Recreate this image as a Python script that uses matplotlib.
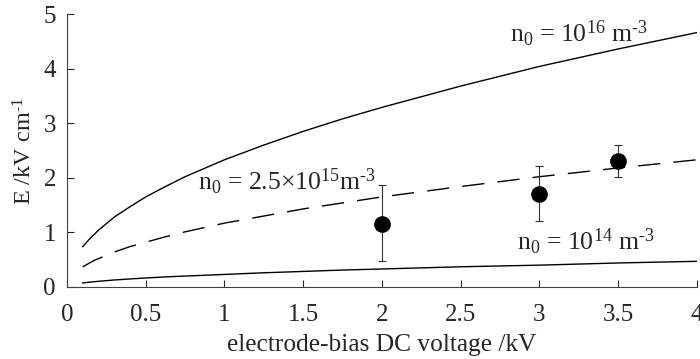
import matplotlib
matplotlib.use("Agg")
import matplotlib.pyplot as plt

plt.rcParams['font.family'] = ['Liberation Serif', 'DejaVu Serif']
plt.rcParams['mathtext.fontset'] = 'custom'
plt.rcParams['mathtext.rm'] = 'Liberation Serif'
plt.rcParams['mathtext.it'] = 'Liberation Serif:italic'

# Curves
voltage = [0.1, 0.125, 0.15, 0.175, 0.2, 0.25, 0.3, 0.4, 0.5, 0.625, 0.75, 1.0, 1.25, 1.5, 1.75,
           2.0, 2.5, 3.0, 3.5, 4.0]
E_n16 = [0.74, 0.82, 0.90, 0.97, 1.04, 1.16, 1.28, 1.47, 1.65, 1.84, 2.02, 2.33, 2.60, 2.85, 3.08,
         3.29, 3.68, 4.04, 4.36, 4.66]
E_n25 = [0.37, 0.41, 0.45, 0.49, 0.52, 0.58, 0.64, 0.74, 0.82, 0.92, 1.01, 1.17, 1.30, 1.43, 1.54,
         1.65, 1.84, 2.02, 2.18, 2.33]
E_n14 = [0.074, 0.082, 0.09, 0.097, 0.104, 0.116, 0.128, 0.147, 0.165, 0.184, 0.20, 0.23, 0.26,
         0.285, 0.31, 0.33, 0.37, 0.40, 0.44, 0.47]

# Measurements
meas_v = [2.0, 3.0, 3.5]
meas_E = [1.16, 1.71, 2.31]
meas_lo = [0.48, 1.21, 2.02]
meas_hi = [1.87, 2.21, 2.60]

xticks = [0, 0.5, 1, 1.5, 2, 2.5, 3, 3.5, 4]
xticklabels = ['0', '0.5', '1', '1.5', '2', '2.5', '3', '3.5', '4']
yticks = [0, 1, 2, 3, 4, 5]

fig = plt.figure(figsize=(7.0, 3.59), dpi=100)
ax = fig.add_axes([0.0957, 0.2006, 0.9, 0.7604])

ax.plot(voltage, E_n16, color='black', lw=1.0)
ax.plot(voltage, E_n25, color='black', lw=1.0, dashes=(16, 9.5))
ax.plot(voltage, E_n14, color='black', lw=1.0)

err_lo = [e - l for e, l in zip(meas_E, meas_lo)]
err_hi = [h - e for e, h in zip(meas_E, meas_hi)]
ax.errorbar(meas_v, meas_E, yerr=[err_lo, err_hi], fmt='o', color='black',
            ecolor='#333333', ms=11, elinewidth=0.8, capsize=3, capthick=0.8)

tc = '#262626'
fs = 18.5
ax.text(2.81, 4.49, r'n$_0$ = 10$^{16}$ m$^{\text{-}3}$', fontsize=fs, color=tc, va='baseline')
ax.text(0.83, 1.78, r'n$_0$ = 2.5$\times$10$^{15}$m$^{\text{-}3}$', fontsize=fs, color=tc, va='baseline')
ax.text(2.86, 0.68, r'n$_0$ = 10$^{14}$ m$^{\text{-}3}$', fontsize=fs, color=tc, va='baseline')

ax.set_xlim(0, 4)
ax.set_ylim(0, 5)
ax.set_xticks(xticks)
ax.set_xticklabels(xticklabels)
ax.set_yticks(yticks)
ax.tick_params(direction='in', labelsize=18, colors=tc, length=5, width=0.8)
ax.tick_params(axis='x', pad=12)
ax.tick_params(axis='y', pad=8)
for s in ['top', 'right']:
    ax.spines[s].set_visible(False)
for s in ['left', 'bottom']:
    ax.spines[s].set_color('#404040')
    ax.spines[s].set_linewidth(0.8)

ax.set_xlabel('electrode-bias DC voltage /kV', fontsize=18.3, color=tc, labelpad=6)
ax.set_ylabel(r'E /kV cm$^{\text{-}1}$', fontsize=17.5, color=tc, labelpad=5)

fig.savefig('out.png', dpi=100)
